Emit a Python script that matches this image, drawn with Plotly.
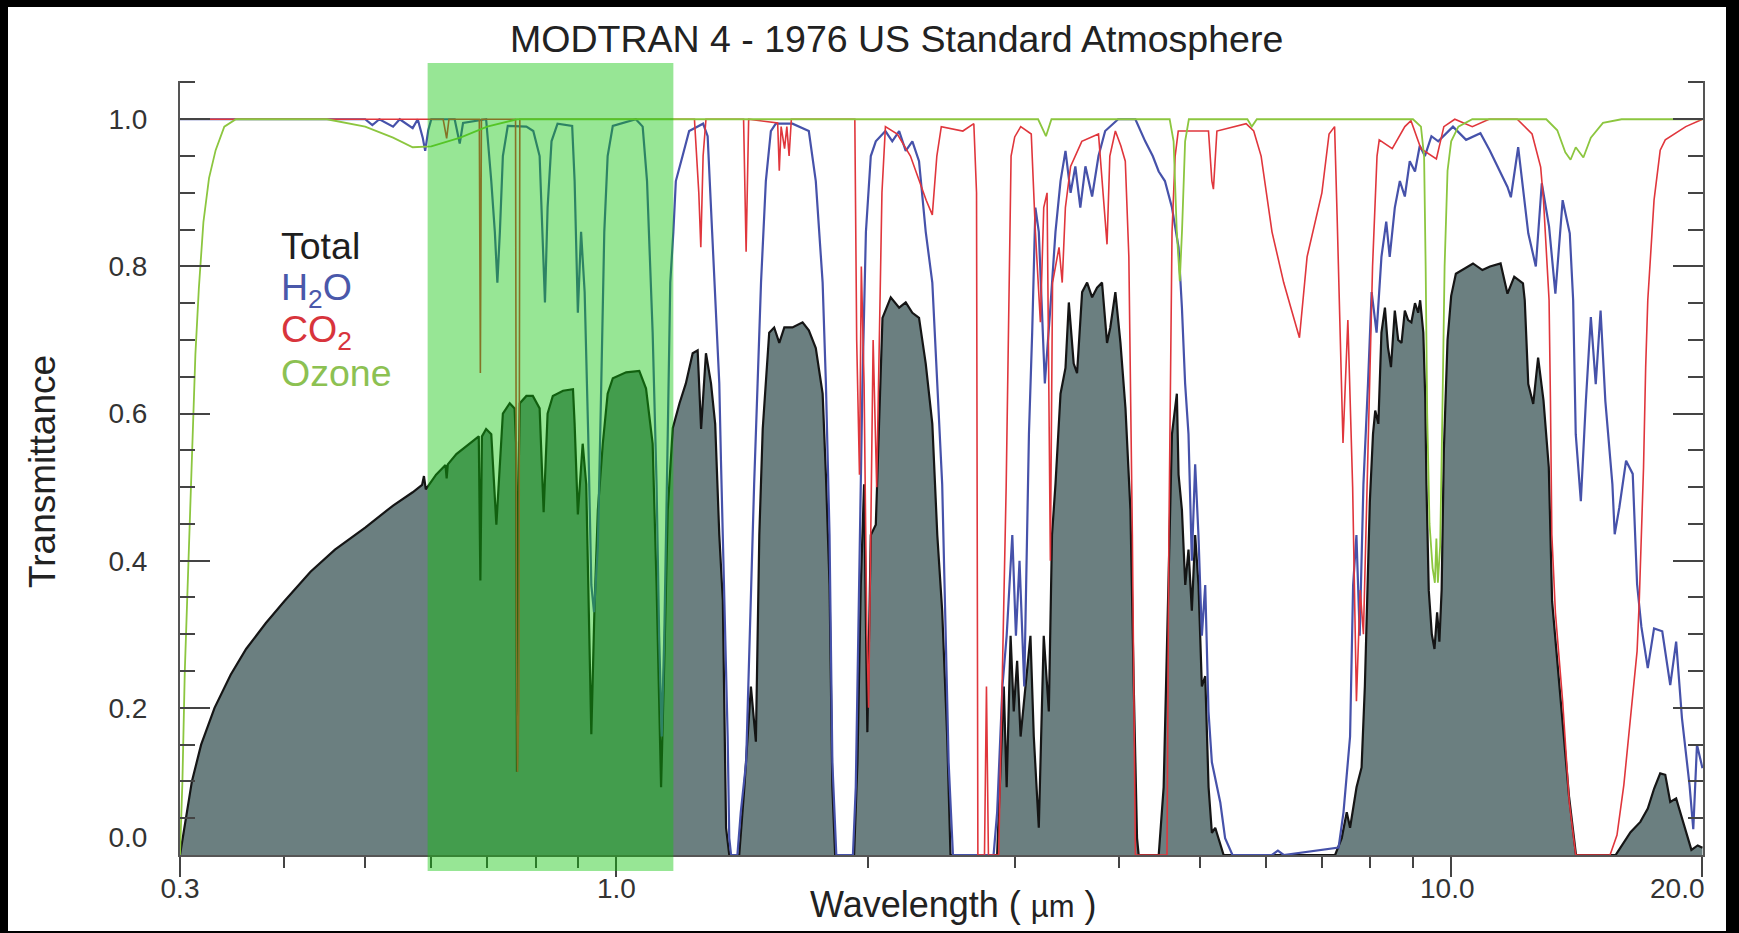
import numpy as np
import plotly.graph_objects as go

# ---------------- data (wavelength in um, transmittance) ----------------
total = [
    (0.300, 0.000), (0.305, 0.050), (0.310, 0.100), (0.318, 0.150), (0.330, 0.200), (0.345, 0.245),
    (0.360, 0.280), (0.380, 0.315), (0.400, 0.345), (0.430, 0.385), (0.460, 0.415), (0.500, 0.445),
    (0.540, 0.475), (0.570, 0.493), (0.585, 0.503), (0.588, 0.515), (0.591, 0.497), (0.608, 0.517),
    (0.624, 0.530), (0.626, 0.512), (0.628, 0.531), (0.643, 0.545), (0.667, 0.559), (0.684, 0.569),
    (0.687, 0.373), (0.690, 0.569), (0.698, 0.579), (0.708, 0.572), (0.718, 0.449), (0.725, 0.531),
    (0.731, 0.600), (0.745, 0.614), (0.755, 0.607), (0.758, 0.560), (0.760, 0.113), (0.763, 0.500),
    (0.766, 0.614), (0.780, 0.624), (0.794, 0.624), (0.809, 0.607), (0.818, 0.466), (0.827, 0.600),
    (0.839, 0.624), (0.863, 0.631), (0.887, 0.633), (0.891, 0.586), (0.899, 0.463), (0.911, 0.559),
    (0.920, 0.504), (0.933, 0.164), (0.941, 0.332), (0.950, 0.469), (0.963, 0.559), (0.976, 0.627),
    (0.990, 0.648), (1.027, 0.656), (1.065, 0.658), (1.085, 0.634), (1.105, 0.559), (1.117, 0.367),
    (1.131, 0.092), (1.141, 0.264), (1.152, 0.469), (1.168, 0.580), (1.190, 0.614), (1.211, 0.641),
    (1.234, 0.682), (1.251, 0.686), (1.263, 0.579), (1.280, 0.682), (1.298, 0.641), (1.313, 0.586),
    (1.328, 0.435), (1.341, 0.346), (1.353, 0.037), (1.365, 0.000), (1.403, 0.000), (1.423, 0.092),
    (1.449, 0.229), (1.469, 0.154), (1.483, 0.435), (1.497, 0.579), (1.524, 0.710), (1.545, 0.717),
    (1.567, 0.696), (1.589, 0.717), (1.625, 0.717), (1.671, 0.724), (1.700, 0.713), (1.733, 0.689),
    (1.766, 0.627), (1.782, 0.517), (1.800, 0.367), (1.814, 0.092), (1.828, 0.000), (1.926, 0.000),
    (1.944, 0.126), (1.962, 0.367), (1.980, 0.504), (1.998, 0.167), (2.017, 0.435), (2.045, 0.449),
    (2.063, 0.586), (2.083, 0.730), (2.131, 0.758), (2.181, 0.744), (2.221, 0.751), (2.262, 0.737),
    (2.304, 0.730), (2.347, 0.668), (2.390, 0.586), (2.423, 0.435), (2.456, 0.332), (2.490, 0.161),
    (2.513, 0.000), (2.858, 0.000), (2.871, 0.058), (2.911, 0.229), (2.934, 0.092), (2.966, 0.298),
    (2.992, 0.195), (3.020, 0.264), (3.049, 0.161), (3.090, 0.229), (3.133, 0.298), (3.162, 0.161),
    (3.206, 0.037), (3.250, 0.298), (3.296, 0.195), (3.325, 0.435), (3.357, 0.504), (3.404, 0.627),
    (3.451, 0.662), (3.483, 0.751), (3.530, 0.668), (3.563, 0.655), (3.613, 0.765), (3.663, 0.778),
    (3.714, 0.758), (3.765, 0.771), (3.817, 0.778), (3.870, 0.696), (3.905, 0.717), (3.960, 0.765),
    (4.016, 0.696), (4.072, 0.607), (4.128, 0.469), (4.166, 0.229), (4.204, 0.023), (4.223, 0.000),
    (4.463, 0.000), (4.524, 0.092), (4.566, 0.298), (4.629, 0.572), (4.692, 0.627), (4.714, 0.517),
    (4.758, 0.469), (4.802, 0.367), (4.845, 0.415), (4.890, 0.332), (4.935, 0.435), (4.981, 0.367),
    (5.027, 0.229), (5.074, 0.243), (5.121, 0.092), (5.168, 0.030), (5.216, 0.037), (5.265, 0.023),
    (5.338, 0.000), (7.260, 0.000), (7.394, 0.023), (7.497, 0.058), (7.566, 0.037), (7.702, 0.092),
    (7.810, 0.119), (7.881, 0.229), (7.990, 0.480), (8.06, 0.572), (8.11, 0.604), (8.18, 0.586),
    (8.25, 0.710), (8.33, 0.744), (8.40, 0.690), (8.47, 0.663), (8.56, 0.740), (8.64, 0.700),
    (8.72, 0.696), (8.80, 0.740), (8.88, 0.727), (8.96, 0.724), (9.05, 0.750), (9.13, 0.737),
    (9.18, 0.754), (9.26, 0.710), (9.31, 0.620), (9.34, 0.504), (9.40, 0.360), (9.48, 0.300),
    (9.55, 0.280), (9.62, 0.330), (9.68, 0.290), (9.74, 0.360), (9.80, 0.550), (9.90, 0.700),
    (10.0, 0.760), (10.13, 0.790), (10.30, 0.795), (10.62, 0.804), (10.90, 0.795), (11.13, 0.800),
    (11.46, 0.804), (11.60, 0.780), (11.68, 0.763), (11.90, 0.786), (12.19, 0.777), (12.25, 0.754),
    (12.37, 0.640), (12.54, 0.613), (12.71, 0.676), (12.90, 0.618), (13.09, 0.527), (13.21, 0.345),
    (13.54, 0.200), (13.84, 0.080), (14.11, 0.000), (15.74, 0.000), (15.93, 0.009), (16.40, 0.031),
    (16.85, 0.045), (17.20, 0.063), (17.50, 0.090), (17.80, 0.111), (18.05, 0.109), (18.30, 0.072),
    (18.60, 0.077), (18.90, 0.050), (19.30, 0.013), (19.40, 0.007), (19.74, 0.013), (20.00, 0.010),
]

h2o = [
    (0.300, 1.000), (0.500, 1.000), (0.510, 0.992), (0.520, 1.000), (0.540, 0.990), (0.550, 1.000),
    (0.570, 0.988), (0.578, 1.000), (0.586, 0.975), (0.590, 0.957), (0.595, 0.985), (0.600, 1.000),
    (0.640, 1.000), (0.649, 0.967), (0.655, 0.995), (0.698, 1.000), (0.708, 0.916), (0.715, 0.847),
    (0.720, 0.778), (0.725, 0.847), (0.731, 0.950), (0.741, 0.991), (0.780, 0.990), (0.795, 0.984),
    (0.809, 0.950), (0.816, 0.847), (0.821, 0.751), (0.827, 0.880), (0.836, 0.970), (0.850, 0.994),
    (0.885, 0.991), (0.891, 0.916), (0.899, 0.737), (0.907, 0.847), (0.916, 0.765), (0.925, 0.572),
    (0.933, 0.367), (0.940, 0.330), (0.950, 0.420), (0.959, 0.641), (0.967, 0.847), (0.976, 0.950),
    (0.990, 0.991), (1.055, 1.000), (1.075, 0.990), (1.088, 0.916), (1.105, 0.710), (1.117, 0.504),
    (1.125, 0.298), (1.133, 0.161), (1.141, 0.298), (1.152, 0.572), (1.160, 0.778), (1.170, 0.847),
    (1.178, 0.916), (1.200, 0.950), (1.222, 0.984), (1.270, 0.994), (1.286, 0.977), (1.302, 0.847),
    (1.315, 0.744), (1.328, 0.641), (1.334, 0.538), (1.347, 0.332), (1.359, 0.161), (1.365, 0.023),
    (1.372, 0.000), (1.396, 0.000), (1.409, 0.058), (1.430, 0.126), (1.449, 0.367), (1.462, 0.504),
    (1.476, 0.641), (1.490, 0.778), (1.510, 0.916), (1.531, 0.984), (1.552, 0.994), (1.625, 0.994),
    (1.700, 0.984), (1.733, 0.916), (1.766, 0.778), (1.782, 0.641), (1.800, 0.435), (1.814, 0.126),
    (1.834, 0.000), (1.920, 0.000), (1.935, 0.092), (1.953, 0.367), (1.971, 0.641), (1.990, 0.847),
    (2.017, 0.950), (2.045, 0.970), (2.100, 0.984), (2.140, 0.970), (2.181, 0.984), (2.221, 0.957),
    (2.262, 0.970), (2.304, 0.943), (2.347, 0.847), (2.390, 0.778), (2.423, 0.641), (2.456, 0.504),
    (2.480, 0.298), (2.500, 0.126), (2.530, 0.000), (2.830, 0.000), (2.858, 0.058), (2.900, 0.229),
    (2.934, 0.298), (2.980, 0.435), (3.010, 0.298), (3.040, 0.400), (3.080, 0.229), (3.120, 0.572),
    (3.148, 0.710), (3.176, 0.880), (3.206, 0.847), (3.260, 0.641), (3.310, 0.744), (3.357, 0.847),
    (3.404, 0.916), (3.451, 0.957), (3.500, 0.900), (3.546, 0.936), (3.595, 0.880), (3.646, 0.936),
    (3.714, 0.895), (3.780, 0.950), (3.850, 0.984), (3.990, 1.000), (4.185, 1.000), (4.300, 0.970),
    (4.390, 0.950), (4.463, 0.929), (4.540, 0.916), (4.629, 0.880), (4.714, 0.826), (4.758, 0.744),
    (4.800, 0.641), (4.845, 0.572), (4.890, 0.400), (4.935, 0.531), (4.980, 0.435), (5.027, 0.298),
    (5.074, 0.367), (5.120, 0.195), (5.168, 0.126), (5.240, 0.092), (5.290, 0.071), (5.360, 0.023),
    (5.470, 0.000), (6.100, 0.000), (6.200, 0.006), (6.300, 0.000), (7.330, 0.010), (7.430, 0.058),
    (7.500, 0.106), (7.566, 0.161), (7.630, 0.367), (7.700, 0.435), (7.770, 0.298), (7.850, 0.504),
    (7.950, 0.641), (8.030, 0.765), (8.140, 0.710), (8.250, 0.813), (8.360, 0.861), (8.440, 0.813),
    (8.560, 0.880), (8.680, 0.916), (8.800, 0.895), (8.920, 0.943), (9.050, 0.929), (9.170, 0.964),
    (9.300, 0.950), (9.470, 0.977), (9.650, 0.970), (10.05, 0.990), (10.42, 0.972), (10.84, 0.981),
    (11.12, 0.958), (11.45, 0.927), (11.68, 0.908), (11.79, 0.894), (12.03, 0.962), (12.37, 0.845),
    (12.63, 0.800), (12.84, 0.913), (13.10, 0.854), (13.33, 0.763), (13.60, 0.890), (13.87, 0.845),
    (14.00, 0.754), (14.10, 0.572), (14.30, 0.481), (14.50, 0.617), (14.70, 0.731), (14.90, 0.640),
    (15.10, 0.740), (15.30, 0.617), (15.60, 0.504), (15.70, 0.436), (15.90, 0.472), (16.20, 0.536),
    (16.50, 0.518), (16.70, 0.368), (16.90, 0.310), (17.20, 0.254), (17.50, 0.308), (17.90, 0.304),
    (18.30, 0.231), (18.60, 0.290), (18.90, 0.186), (19.30, 0.095), (19.50, 0.035), (19.70, 0.150),
    (20.00, 0.118),
]

co2 = [
    (0.300, 1.000), (0.620, 1.000), (0.626, 0.974), (0.630, 1.000), (0.685, 1.000), (0.687, 0.655),
    (0.689, 1.000), (0.757, 1.000), (0.759, 0.300), (0.761, 0.113), (0.764, 0.200), (0.766, 1.000),
    (1.240, 1.000), (1.255, 0.900), (1.262, 0.826), (1.270, 0.950), (1.280, 1.000), (1.420, 1.000),
    (1.430, 0.820), (1.440, 1.000), (1.560, 0.995), (1.567, 0.930), (1.575, 0.990), (1.590, 0.960),
    (1.600, 0.990), (1.610, 0.950), (1.620, 1.000), (1.930, 1.000), (1.940, 0.700), (1.955, 0.517),
    (1.965, 0.800), (1.980, 0.640), (1.995, 0.300), (2.005, 0.200), (2.015, 0.400), (2.030, 0.700),
    (2.050, 0.500), (2.065, 0.700), (2.080, 0.900), (2.100, 0.990), (2.170, 0.980), (2.250, 0.950),
    (2.300, 0.920), (2.350, 0.890), (2.390, 0.870), (2.420, 0.950), (2.450, 0.990), (2.600, 0.984),
    (2.680, 0.994), (2.700, 0.900), (2.710, 0.000), (2.760, 0.000), (2.775, 0.229), (2.790, 0.000),
    (2.870, 0.000), (2.930, 0.500), (2.970, 0.950), (3.000, 0.976), (3.050, 0.990), (3.140, 0.980),
    (3.176, 0.847), (3.200, 0.777), (3.220, 0.724), (3.250, 0.880), (3.280, 0.900), (3.310, 0.400),
    (3.330, 0.778), (3.390, 0.826), (3.420, 0.778), (3.450, 0.880), (3.500, 0.936), (3.610, 0.970),
    (3.780, 0.980), (3.870, 0.830), (3.900, 0.950), (3.960, 0.984), (4.020, 0.964), (4.070, 0.943),
    (4.110, 0.813), (4.150, 0.435), (4.185, 0.000), (4.566, 0.000), (4.590, 0.435), (4.630, 0.847),
    (4.670, 0.950), (4.710, 0.984), (5.120, 0.984), (5.168, 0.916), (5.190, 0.905), (5.240, 0.984),
    (5.680, 0.994), (5.800, 0.984), (5.920, 0.950), (6.100, 0.847), (6.300, 0.778), (6.440, 0.740),
    (6.580, 0.703), (6.720, 0.813), (7.000, 0.900), (7.140, 0.980), (7.250, 0.990), (7.300, 0.870),
    (7.420, 0.560), (7.520, 0.727), (7.620, 0.500), (7.700, 0.209), (7.780, 0.360), (7.850, 0.300),
    (7.950, 0.550), (8.050, 0.800), (8.150, 0.950), (8.200, 0.972), (8.500, 0.960), (8.800, 0.990),
    (8.950, 0.998), (9.200, 0.960), (9.600, 0.946), (9.800, 0.990), (10.10, 1.000), (10.60, 0.990),
    (11.10, 1.000), (12.00, 1.000), (12.50, 0.980), (12.80, 0.935), (12.90, 0.890), (13.10, 0.754),
    (13.15, 0.617), (13.20, 0.436), (13.33, 0.330), (13.60, 0.209), (13.85, 0.072), (14.10, 0.000),
    (15.50, 0.000), (15.80, 0.027), (16.10, 0.095), (16.40, 0.186), (16.70, 0.277), (16.80, 0.345),
    (17.00, 0.527), (17.10, 0.663), (17.20, 0.754), (17.50, 0.890), (17.80, 0.958), (18.05, 0.972),
    (19.10, 0.990), (20.00, 1.000),
]

ozone = [
    (0.300, 0.000), (0.302, 0.100), (0.304, 0.250), (0.307, 0.400), (0.310, 0.550), (0.313, 0.680),
    (0.316, 0.770), (0.320, 0.860), (0.325, 0.920), (0.331, 0.958), (0.339, 0.990), (0.350, 1.000),
    (0.450, 1.000), (0.500, 0.990), (0.540, 0.975), (0.570, 0.962), (0.600, 0.963), (0.650, 0.975),
    (0.700, 0.990), (0.760, 1.000), (3.200, 1.000), (3.270, 0.977), (3.320, 1.000), (4.600, 1.000),
    (4.650, 0.970), (4.690, 0.850), (4.730, 0.780), (4.760, 0.850), (4.800, 0.970), (4.850, 1.000),
    (5.700, 1.000), (5.770, 0.990), (5.850, 1.000), (9.000, 1.000), (9.200, 0.990), (9.280, 0.950),
    (9.320, 0.800), (9.360, 0.600), (9.420, 0.450), (9.500, 0.390), (9.560, 0.370), (9.600, 0.430),
    (9.640, 0.370), (9.700, 0.420), (9.760, 0.600), (9.820, 0.800), (9.900, 0.930), (10.00, 0.970),
    (10.20, 0.990), (10.60, 1.000), (13.00, 1.000), (13.40, 0.985), (13.70, 0.955), (13.90, 0.945),
    (14.10, 0.962), (14.40, 0.948), (14.70, 0.975), (15.20, 0.995), (16.00, 1.000), (20.00, 1.000),
]

x_major = [0.3, 1.0, 10.0, 20.0]
x_major_text = ["0.3", "1.0", "10.0\u00a0", ""]   # "20.0" is set flush-right at the axis end below
x_end_label = "20.0"
x_minor = [0.4, 0.5, 0.6, 0.7, 0.8, 0.9, 2, 3, 4, 5, 6, 7, 8, 9]
top_major = [1.0, 10.0]
top_minor = [0.3, 0.4, 0.5, 0.6, 0.7, 0.8, 0.9, 2, 3, 4, 5, 6, 7, 8, 9]
y_major = [0.0, 0.2, 0.4, 0.6, 0.8, 1.0]
y_major_text = ["0.0<br>\u00a0", "0.2", "0.4", "0.6", "0.8", "1.0"]
window_band = (0.594, 1.17)   # highlighted wavelength band (um)

labels = ["Total", "H<sub>2</sub>O", "CO<sub>2</sub>", "Ozone"]
label_colors = ["#1e1e1e", "#4a58aa", "#d8343c", "#8cc152"]

# ---------------- figure ----------------
FONT = "Liberation Sans, Arial, Helvetica, sans-serif"
TICKC = "#444444"


def xy(pairs):
    return [p[0] for p in pairs], [p[1] for p in pairs]


fig = go.Figure()
wx, wy = xy(total)
fig.add_trace(go.Scatter(x=wx, y=wy, mode="lines", fill="tozeroy", fillcolor="#6b7f80",
                         line=dict(color="#151515", width=2.2), hoverinfo="skip", showlegend=False))
wx, wy = xy(h2o)
fig.add_trace(go.Scatter(x=wx, y=wy, mode="lines", line=dict(color="#4652aa", width=2.2),
                         hoverinfo="skip", showlegend=False))
wx, wy = xy(co2)
fig.add_trace(go.Scatter(x=wx, y=wy, mode="lines", line=dict(color="#e0363c", width=1.6),
                         hoverinfo="skip", showlegend=False))
wx, wy = xy(ozone)
fig.add_trace(go.Scatter(x=wx, y=wy, mode="lines", line=dict(color="#8cc63f", width=1.8),
                         hoverinfo="skip", showlegend=False))

W, H = 1739, 933
L, R, T, B = 180, 36, 81, 78
pw, ph = W - L - R, H - T - B


def px(xpix):
    return (xpix - L) / pw


def py(ypix):
    return (H - B - ypix) / ph


annotations = [
    dict(text="MODTRAN 4 - 1976 US Standard Atmosphere", x=px(896), y=py(39), xref="paper", yref="paper",
         xanchor="center", yanchor="middle", showarrow=False, font=dict(size=37.5, color="#222222", family=FONT)),
    dict(text="Wavelength ( <span style='font-size:31px'>\u00b5m</span> )", x=px(953), y=py(904),
         xref="paper", yref="paper", xanchor="center", yanchor="middle", showarrow=False,
         font=dict(size=36, color="#222222", family=FONT)),
    dict(text="Transmittance", x=px(43), y=py(472), xref="paper", yref="paper", textangle=-90,
         xanchor="center", yanchor="middle", showarrow=False, font=dict(size=37, color="#222222", family=FONT)),
    dict(text=x_end_label, x=1.0, y=py(888), xref="paper", yref="paper", xanchor="right", xshift=4,
         yanchor="middle", showarrow=False, font=dict(size=28, color="#333333", family=FONT)),
]
label_y = [246, 290, 332, 373]
for txt, col, ypix in zip(labels, label_colors, label_y):
    annotations.append(dict(text=txt, x=px(279), y=py(ypix), xref="paper", yref="paper", xanchor="left",
                            yanchor="middle", showarrow=False, font=dict(size=37.5, color=col, family=FONT)))

shapes = [
    # white page inside black frame
    dict(type="rect", xref="paper", yref="paper", x0=px(8), x1=px(1726), y0=py(931), y1=py(7),
         fillcolor="white", line=dict(width=0), layer="below"),
    # highlighted band
    dict(type="rect", xref="x", yref="paper", x0=window_band[0], x1=window_band[1], y0=py(871), y1=py(63),
         fillcolor="rgba(14,196,10,0.43)", line=dict(width=0), layer="above"),
]

fig.update_layout(
    width=W, height=H, autosize=False,
    margin=dict(l=L, r=R, t=T, b=B, pad=0, autoexpand=False),
    paper_bgcolor="black", plot_bgcolor="white",
    font=dict(family=FONT, color="#333333"),
    showlegend=False,
    annotations=annotations,
    shapes=shapes,
    xaxis=dict(type="log", range=[np.log10(0.3), np.log10(20.03)], showline=True, linecolor="#555555",
               linewidth=2, ticks="outside", tickmode="array", tickvals=x_major, ticktext=x_major_text,
               ticklen=20, tickwidth=2, tickcolor=TICKC, tickfont=dict(size=28, color="#333333", family=FONT),
               ticklabelstandoff=-13, automargin=False,
               minor=dict(tickmode="array", tickvals=x_minor, ticks="outside", ticklen=11, tickwidth=2,
                          tickcolor=TICKC),
               showgrid=False, zeroline=False),
    xaxis2=dict(type="log", overlaying="x", side="top", anchor="y", range=[np.log10(0.2), np.log10(20.03)],
                showline=True, linecolor="#555555", linewidth=2, ticks="inside", tickmode="array",
                tickvals=top_major, ticklen=23, tickwidth=2, tickcolor=TICKC, showticklabels=False,
                automargin=False,
                minor=dict(tickmode="array", tickvals=top_minor, ticks="inside", ticklen=12, tickwidth=2,
                           tickcolor=TICKC),
                showgrid=False, zeroline=False),
    yaxis=dict(range=[0, 1.052], showline=True, linecolor="#555555", linewidth=2, mirror="ticks",
               ticks="inside", tickmode="array", tickvals=y_major, ticktext=y_major_text, ticklen=30,
               tickwidth=2, tickcolor=TICKC, tickfont=dict(size=28, color="#333333", family=FONT),
               ticklabelstandoff=25, automargin=False,
               minor=dict(dtick=0.05, tick0=0, ticks="inside", ticklen=15, tickwidth=2, tickcolor=TICKC),
               showgrid=False, zeroline=False),
)

fig.write_html("out.html", config={"displayModeBar": False},
               post_script="document.body.style.margin='0';document.body.style.overflow='hidden';")
